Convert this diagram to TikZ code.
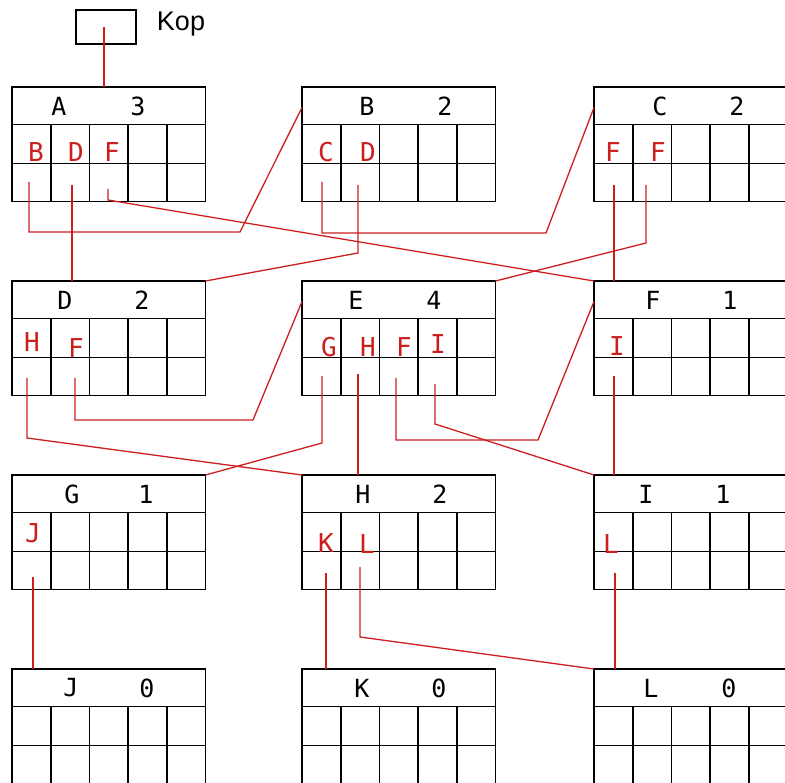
\documentclass[tikz,border=0pt]{standalone}
\usepackage{fontspec}
\newfontfamily\cadfont{DejaVu Sans Mono}
\newfontfamily\kopfont{Liberation Sans}
\usetikzlibrary{calc}
\definecolor{linkred}{RGB}{205,30,30}
\tikzset{
  boxline/.style={line width=1.8pt, draw=black},
  link/.style={draw=linkred, line width=1.3pt},
  hdr/.style={font=\cadfont\fontsize{25}{25}\selectfont, inner sep=0pt, anchor=center},
  reflbl/.style={font=\cadfont\fontsize{26}{26}\selectfont, text=linkred, inner sep=0pt, anchor=base},
}
\newcommand{\recbox}[7]{%
  \coordinate (#1-nw) at (#2,#3);
  \coordinate (#1-ne) at (#2+193.5,#3);
  \coordinate (#1-w) at (#2,#3+20.5);
  \draw[boxline] (#2,#3) rectangle (#2+193.5,#3+114.5);
  \draw[boxline] (#2,#3+37.5) -- (#2+193.5,#3+37.5);
  \draw[boxline] (#2,#3+76.5) -- (#2+193.5,#3+76.5);
  \foreach \k in {1,...,4} {\draw[boxline] (#2+38.7*\k,#3+37.5) -- (#2+38.7*\k,#3+114.5);}
  \node[hdr] (#1-name) at (#2+#6,#3+19) {#4};
  \node[hdr] (#1-num) at (#2+#7,#3+19) {#5};
}
\begin{document}
\begin{tikzpicture}[x=1pt,y=-1pt]
\useasboundingbox (0,0) rectangle (785,783);
\clip (0,0) rectangle (785,783);
% Kop
\node[draw, line width=1.8pt, minimum width=60pt, minimum height=34pt, inner sep=0pt] (kop) at (106,27) {};
\coordinate (kop-c) at (104,27);
\node[font=\kopfont\fontsize{27}{27}\selectfont, inner sep=0pt] (koplbl) at (181,24) {Kop};
% boxes
\recbox{A}{12}{87}{A}{3}{47}{126}
\recbox{B}{302}{87}{B}{2}{65}{143}
\recbox{C}{594}{87}{C}{2}{66}{143}
\recbox{D}{12}{281}{D}{2}{53}{130}
\recbox{E}{302}{281}{E}{4}{54}{132}
\recbox{F}{594}{281}{F}{1}{59}{136}
\recbox{G}{12}{475}{G}{1}{60}{134}
\recbox{H}{302}{475}{H}{2}{61}{138}
\recbox{I}{594}{475}{I}{1}{52}{129}
\recbox{J}{12}{669}{J}{0}{59}{135}
\recbox{K}{302}{669}{K}{0}{60}{137}
\recbox{L}{594}{669}{L}{0}{57}{135}
% reference labels
\node[reflbl] (A-Bl) at (36,162) {B};
\node[reflbl] (A-Dl) at (76,162) {D};
\node[reflbl] (A-Fl) at (112,162) {F};
\node[reflbl] (B-Cl) at (326,162) {C};
\node[reflbl] (B-Dl) at (368,162) {D};
\node[reflbl] (C-F1l) at (613,162) {F};
\node[reflbl] (C-F2l) at (658,162) {F};
\node[reflbl] (D-Hl) at (32,352) {H};
\node[reflbl] (D-Fl) at (76,358) {F};
\node[reflbl] (E-Gl) at (329,357) {G};
\node[reflbl] (E-Hl) at (368,357) {H};
\node[reflbl] (E-Fl) at (404,357) {F};
\node[reflbl] (E-Il) at (438,354) {I};
\node[reflbl] (F-Il) at (617,356) {I};
\node[reflbl] (G-Jl) at (33,543) {J};
\node[reflbl] (H-Kl) at (326,552) {K};
\node[reflbl] (H-Ll) at (367,554) {L};
\node[reflbl] (I-Ll) at (611,554) {L};
% link start points
\coordinate (A-B) at (29,182);
\coordinate (A-D) at (72,185);
\coordinate (A-F) at (108,189);
\coordinate (B-C) at (322,182);
\coordinate (B-D) at (358,185);
\coordinate (C-F1) at (614,185);
\coordinate (C-F2) at (646,185);
\coordinate (D-H) at (27,378);
\coordinate (D-F) at (75,378);
\coordinate (E-G) at (322,376);
\coordinate (E-H) at (358,374);
\coordinate (E-F) at (396,378);
\coordinate (E-I) at (435,384);
\coordinate (F-I) at (614,376);
\coordinate (G-J) at (33,577);
\coordinate (H-K) at (326,573);
\coordinate (H-L) at (360,567);
\coordinate (I-L) at (615,573);
% links
\draw[link] (kop-c) -- (kop-c |- A-nw);
\draw[link] (A-B) |- (240,232) -- (B-w);
\draw[link] (A-D) -- (A-D |- D-nw);
\draw[link] (A-F) -- ++(0,11) -- (F-nw);
\draw[link] (B-C) |- (546,233) -- (C-w);
\draw[link] (B-D) -- ++(0,68) -- (D-ne);
\draw[link] (C-F1) -- (C-F1 |- F-nw);
\draw[link] (C-F2) -- ++(0,58) -- (E-ne);
\draw[link] (D-H) -- ++(0,60) -- (H-nw);
\draw[link] (D-F) |- (253,420) -- (E-w);
\draw[link] (E-G) -- ++(0,67) -- (G-ne);
\draw[link] (E-H) -- (E-H |- H-nw);
\draw[link] (E-F) |- (538,440) -- (F-w);
\draw[link] (E-I) -- ++(0,40) -- (I-nw);
\draw[link] (F-I) -- (F-I |- I-nw);
\draw[link] (G-J) -- (G-J |- J-nw);
\draw[link] (H-K) -- (H-K |- K-nw);
\draw[link] (H-L) -- ++(0,70) -- (L-nw);
\draw[link] (I-L) -- (I-L |- L-nw);
\end{tikzpicture}
\end{document}
